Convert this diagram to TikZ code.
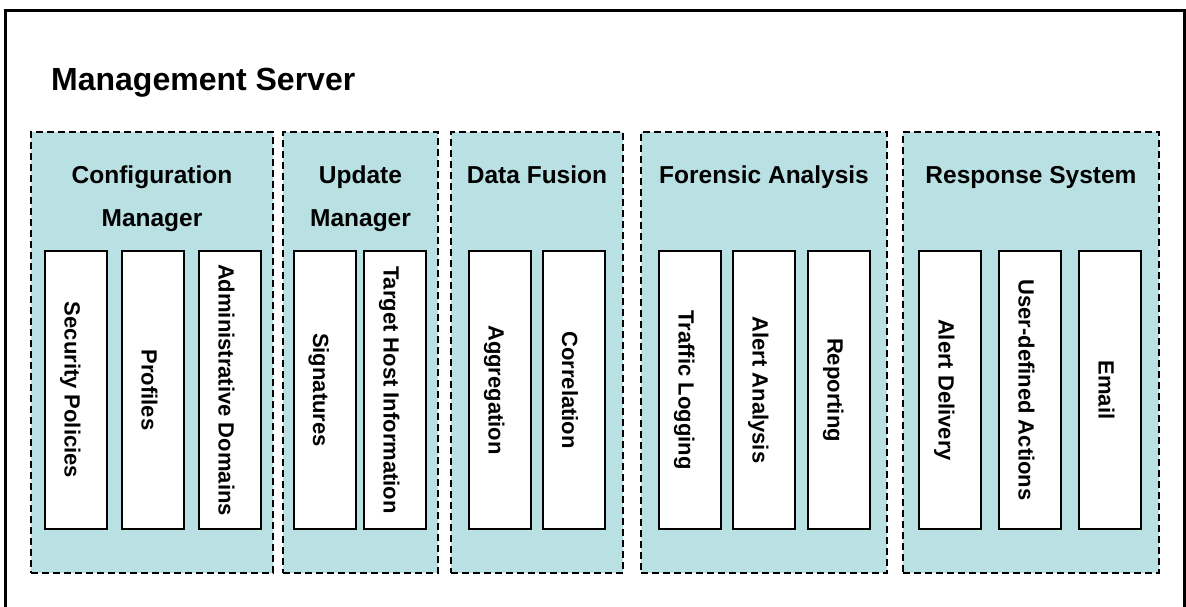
\documentclass[tikz,border=0pt]{standalone}
\usepackage{fontspec}
\setmainfont{Liberation Sans}
\definecolor{grpfill}{RGB}{185,224,227}
\tikzset{
  grp/.style={draw=black, fill=grpfill, dash pattern=on 7pt off 4pt, line width=1.8pt, inner sep=0pt, outer sep=0pt},
  leaf/.style={draw=black, fill=white, line width=2pt, rotate=-90, minimum width=278pt, minimum height=62pt,
    inner sep=0pt, outer sep=0pt, text height=25pt, text depth=2pt,
    font=\fontsize{22}{26}\selectfont\bfseries},
  hdr/.style={anchor=base, align=center, inner sep=0pt, font=\fontsize{24.5}{43}\selectfont\bfseries},
}
\begin{document}
\begin{tikzpicture}[x=1pt,y=-1pt]
\useasboundingbox (0,0) rectangle (1186,607);
\clip (0,0) rectangle (1186,607);
% outer frame
\draw[line width=3pt] (5.5,640) -- (5.5,10.5) -- (1184,10.5) -- (1184,640);
\node[anchor=base west, inner sep=0pt, font=\fontsize{32}{38}\selectfont\bfseries] (title) at (51,91) {Management Server};
% groups
\node[grp, minimum width=242pt, minimum height=441pt] (g1) at (152,352.5) {};
\node[grp, minimum width=155pt, minimum height=441pt] (g2) at (360.5,352.5) {};
\node[grp, minimum width=172pt, minimum height=441pt] (g3) at (537,352.5) {};
\node[grp, minimum width=246pt, minimum height=441pt] (g4) at (764,352.5) {};
\node[grp, minimum width=256pt, minimum height=441pt] (g5) at (1031,352.5) {};
% headers (base anchor = baseline of the last line)
\node[hdr] (h1) at (152,226) {Configuration\\Manager};
\node[hdr] (h2) at (360.5,226) {Update\\Manager};
\node[hdr] (h3) at (537,183) {Data Fusion};
\node[hdr] (h4) at (764,183) {Forensic Analysis};
\node[hdr] (h5) at (1031,183) {Response System};
% leaves
\node[leaf] (l11) at (76,390) {Security Policies};
\node[leaf] (l12) at (153,390) {Profiles};
\node[leaf] (l13) at (230,390) {Administrative Domains};
\node[leaf] (l21) at (324.5,390) {Signatures};
\node[leaf] (l22) at (395,390) {Target Host Information};
\node[leaf] (l31) at (500,390) {Aggregation};
\node[leaf] (l32) at (573.5,390) {Correlation};
\node[leaf] (l41) at (690,390) {Traffic Logging};
\node[leaf] (l42) at (764,390) {Alert Analysis};
\node[leaf] (l43) at (839,390) {Reporting};
\node[leaf] (l51) at (950,390) {Alert Delivery};
\node[leaf] (l52) at (1030,390) {User-defined Actions};
\node[leaf] (l53) at (1110,390) {Email};
\end{tikzpicture}
\end{document}
